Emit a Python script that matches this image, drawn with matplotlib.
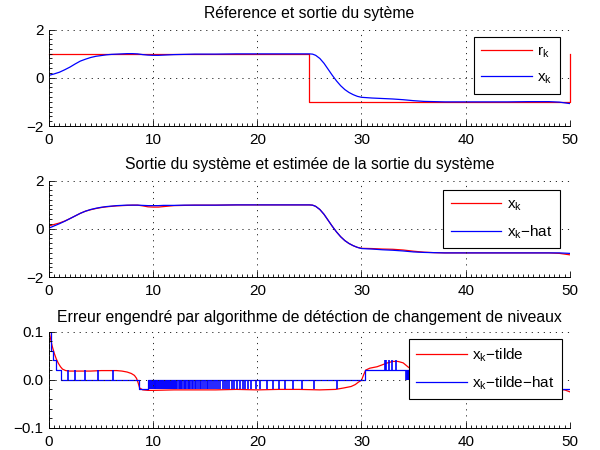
import numpy as np
import matplotlib
matplotlib.use('Agg')
import matplotlib.pyplot as plt
from matplotlib.ticker import MultipleLocator

plt.rcParams['font.family'] = ['Liberation Sans', 'DejaVu Sans']
plt.rcParams['mathtext.fontset'] = 'custom'
plt.rcParams['mathtext.rm'] = 'Liberation Sans'
plt.rcParams['mathtext.it'] = 'Liberation Sans'

# ---- data ----
# reference r_k (step)
t_ref = [0, 25, 25, 50, 50]
r_k = [1, 1, -1, -1, 1]

# time grid for the system outputs
t_out = [0, 0.5, 1, 1.5, 2, 2.5, 3, 3.5, 4, 4.5, 5, 5.5, 6, 6.5, 7, 7.5, 8, 8.5, 9, 9.5,
         10, 10.5, 11, 11.5, 12, 13, 14, 16, 18, 20, 22, 24, 25, 25.3, 25.6, 26, 26.4,
         26.8, 27.2, 27.6, 28, 28.4, 28.8, 29.2, 29.6, 30, 31, 32, 33, 34, 35, 36, 37,
         38, 40, 42, 44, 46, 47, 48, 49, 49.5, 50]

# x_k in the first panel
x_k = [0.10, 0.16, 0.23, 0.33, 0.44, 0.57, 0.69, 0.77, 0.84, 0.89, 0.92, 0.95, 0.97, 0.98,
       0.99, 1.00, 1.00, 0.99, 0.96, 0.94, 0.93, 0.93, 0.94, 0.95, 0.96, 0.97, 0.98, 0.98,
       0.99, 0.99, 0.99, 0.99, 0.99, 0.98, 0.93, 0.80, 0.60, 0.35, 0.10, -0.13, -0.33,
       -0.49, -0.61, -0.70, -0.77, -0.81, -0.84, -0.86, -0.88, -0.91, -0.95, -0.98, -0.99,
       -1.00, -1.00, -1.00, -1.00, -0.99, -0.99, -0.99, -1.01, -1.04, -1.07]

# x_k and x_k-hat in the second panel
x_k2 = [0.12, 0.18, 0.24, 0.32, 0.42, 0.53, 0.64, 0.73, 0.79, 0.84, 0.88, 0.91, 0.93, 0.95,
        0.96, 0.97, 0.98, 0.98, 0.95, 0.91, 0.90, 0.90, 0.92, 0.94, 0.96, 0.97, 0.98, 0.98,
        0.99, 0.99, 0.99, 0.99, 0.99, 0.98, 0.93, 0.80, 0.60, 0.35, 0.10, -0.13, -0.33,
        -0.49, -0.61, -0.70, -0.77, -0.81, -0.82, -0.84, -0.85, -0.88, -0.93, -0.97, -0.99,
        -1.00, -1.00, -1.00, -1.00, -1.00, -1.00, -1.00, -1.02, -1.05, -1.08]
x_hat = [0.03, 0.12, 0.21, 0.31, 0.42, 0.53, 0.64, 0.73, 0.80, 0.85, 0.89, 0.92, 0.94, 0.96,
         0.97, 0.98, 0.98, 0.98, 0.97, 0.96, 0.96, 0.96, 0.97, 0.97, 0.97, 0.98, 0.98, 0.98,
         0.99, 0.99, 0.99, 0.99, 0.99, 0.98, 0.93, 0.80, 0.60, 0.35, 0.10, -0.13, -0.33,
         -0.49, -0.61, -0.70, -0.77, -0.82, -0.84, -0.87, -0.89, -0.92, -0.96, -0.98, -0.99,
         -1.00, -1.00, -1.00, -1.00, -1.00, -1.00, -1.00, -1.00, -1.01, -1.02]

# x_k-tilde (error)
t_err = [0, 0.15, 0.3, 0.5, 0.7, 0.9, 1.1, 1.3, 1.6, 2, 3, 4, 5, 6, 6.5, 7, 7.5, 7.9, 8.2,
         8.4, 8.55, 8.7, 9, 9.5, 10, 12, 14, 16, 18, 20, 22, 24, 26, 27.5, 28.3, 29, 29.4,
         29.7, 30, 30.2, 30.4, 30.8, 31.5, 32, 32.5, 33, 33.5, 34, 34.5, 35, 36, 37, 38,
         40, 44, 48, 49.5, 50]
x_tilde = [0.1, 0.085, 0.07, 0.055, 0.043, 0.034, 0.027, 0.022, 0.019, 0.018, 0.018, 0.018,
           0.019, 0.019, 0.019, 0.018, 0.016, 0.013, 0.009, 0.003, -0.006, -0.017, -0.021,
           -0.022, -0.022, -0.021, -0.021, -0.021, -0.020, -0.021, -0.020, -0.020, -0.021,
           -0.020, -0.017, -0.014, -0.010, -0.005, -0.001, 0.010, 0.020, 0.024, 0.027,
           0.031, 0.035, 0.038, 0.038, 0.035, 0.026, 0.020, 0.008, 0.0, -0.008, -0.014,
           -0.018, -0.020, -0.021, -0.025]

# x_k-tilde-hat (quantised estimate): base levels + one-sample spikes
t_lvl = [0, 0.15, 0.35, 0.67, 1.12, 8.6, 9.53, 30.3, 34.7, 38.5, 50]
lvl = [0.1, 0.06, 0.04, 0.02, 0, -0.02, 0, 0.02, 0, -0.02, -0.02]

spk_up_t = [1.86, 2.5, 3.46, 4.74, 6.18]                  # 0 -> 0.02
spk_dn_t = [9.62, 9.70, 9.80, 9.88, 9.97, 10.05, 10.14, 10.22, 10.30, 10.40, 10.48,
            10.57, 10.66, 10.75, 10.83, 10.92, 11.02, 11.10, 11.20, 11.30, 11.38, 11.48,
            11.58, 11.68, 11.78, 11.88, 12.00, 12.10, 12.20, 12.32, 12.44, 12.55, 12.68,
            12.80, 12.92, 13.05, 13.18, 13.30, 13.44, 13.58, 13.72, 13.86, 14.00, 14.15,
            14.30, 14.46, 14.62, 14.78, 14.95, 15.12, 15.30, 15.48, 15.66, 15.85, 16.05,
            16.25, 16.45, 16.66, 16.88, 17.10, 17.32, 17.55, 17.80, 18.05, 18.30, 18.58,
            18.85, 19.12, 19.40, 19.90, 20.30, 20.90, 21.50, 22.10, 22.70, 23.40, 24.25,
            25.45, 27.65]                                  # 0 -> -0.02
spk_hi_t = [32.25, 32.4, 32.6, 32.9, 33.3]                 # 0.02 -> 0.04
spk_lo_t = [34.30, 34.36, 34.42, 34.48, 34.54, 34.60, 34.66]  # 0.02 -> 0

titles = ['Réference et sortie du sytème',
          'Sortie du système et estimée de la sortie du système',
          'Erreur engendré par algorithme de détéction de changement de niveaux']

RED = (1, 0, 0)
BLUE = (0, 0, 1)
LW = 0.9


def style_axes(ax, ylim, ymajor, yminor):
    ax.set_xlim(0, 50)
    ax.set_ylim(*ylim)
    ax.xaxis.set_major_locator(MultipleLocator(10))
    ax.xaxis.set_minor_locator(MultipleLocator(0.5))
    ax.yaxis.set_major_locator(MultipleLocator(ymajor))
    ax.yaxis.set_minor_locator(MultipleLocator(yminor))
    ax.spines['top'].set_visible(False)
    ax.spines['right'].set_visible(False)
    for s in ('left', 'bottom'):
        ax.spines[s].set_linewidth(0.7)
    ax.tick_params(which='both', direction='in', top=False, right=False,
                   labelsize=11, width=0.6)
    ax.tick_params(which='major', length=4)
    ax.tick_params(axis='x', which='major', pad=5)
    ax.tick_params(axis='y', which='major', pad=4)
    ax.tick_params(which='minor', length=2)
    ax.grid(True, which='major', color='0.15', linestyle=(0, (1.2, 5)), linewidth=0.7)
    ax.set_axisbelow(False)


def add_legend(ax, anchor):
    leg = ax.legend(loc='upper right', bbox_to_anchor=anchor, borderaxespad=0,
                    fontsize=11, handlelength=3.3, handletextpad=0.35, borderpad=0.5,
                    labelspacing=0.7, fancybox=False, framealpha=1, edgecolor='k')
    leg.get_frame().set_linewidth(0.8)
    return leg


fig = plt.figure(figsize=(6, 4.5), dpi=100)
ax1 = fig.add_axes([0.0817, 0.72, 0.868, 0.2144])
ax2 = fig.add_axes([0.0817, 0.3844, 0.868, 0.2144])
ax3 = fig.add_axes([0.0817, 0.0489, 0.868, 0.2144])

# panel 1
ax1.plot(t_ref, r_k, color=RED, lw=LW, label=r'r$_\mathregular{k}$', clip_on=False)
ax1.plot(t_out, x_k, color=BLUE, lw=LW, label=r'x$_\mathregular{k}$')
style_axes(ax1, (-2, 2), 2, 0.2)
add_legend(ax1, (0.981, 0.925))
ax1.set_title(titles[0], fontsize=11.3, pad=8)

# panel 2
ax2.plot(t_out, x_k2, color=RED, lw=LW, label=r'x$_\mathregular{k}$')
ax2.plot(t_out, x_hat, color=BLUE, lw=LW, label=r'x$_\mathregular{k}$−hat')
style_axes(ax2, (-2, 2), 2, 0.2)
add_legend(ax2, (0.981, 0.907))
ax2.set_title(titles[1], fontsize=11.3, pad=8)

# panel 3
ax3.plot(t_err, x_tilde, color=RED, lw=LW, label=r'x$_\mathregular{k}$−tilde')
ax3.step(t_lvl, lvl, where='post', color=BLUE, lw=LW, label=r'x$_\mathregular{k}$−tilde−hat')
ax3.vlines(spk_up_t, 0, 0.02, color=BLUE, lw=1.2)
ax3.vlines(spk_dn_t, -0.02, 0, color=BLUE, lw=1.2)
ax3.vlines(spk_hi_t, 0.02, 0.04, color=BLUE, lw=1.2)
ax3.vlines(spk_lo_t, 0, 0.02, color=BLUE, lw=1.2)
style_axes(ax3, (-0.1, 0.1), 0.1, 0.02)
add_legend(ax3, (0.985, 0.927))
ax3.set_title(titles[2], fontsize=11.3, pad=7)

fig.savefig('out.png', dpi=100)
